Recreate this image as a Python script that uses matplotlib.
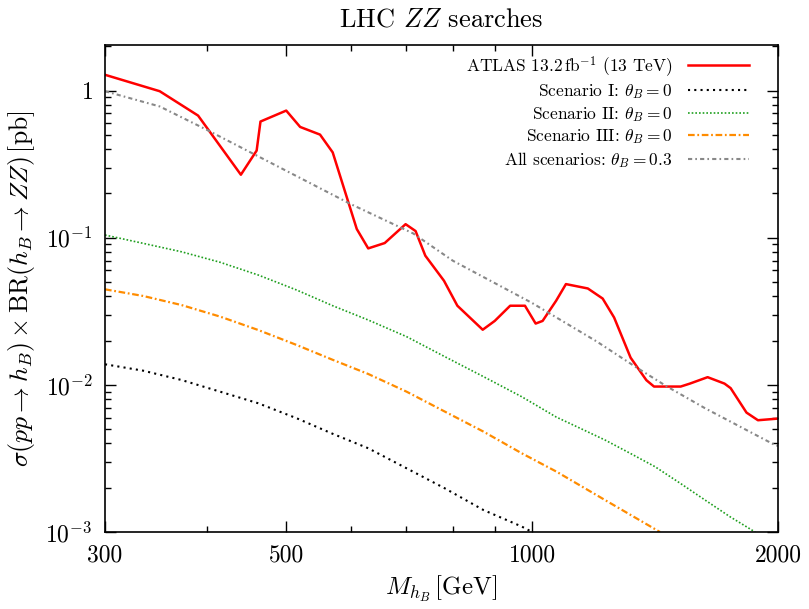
import numpy as np
import matplotlib
matplotlib.use('Agg')
import matplotlib.pyplot as plt
from matplotlib.ticker import FixedLocator, NullFormatter, LogLocator

plt.rcParams['font.family'] = 'serif'
plt.rcParams['font.serif'] = ['cmr10']
plt.rcParams['mathtext.fontset'] = 'cm'
plt.rcParams['axes.formatter.use_mathtext'] = True

# ATLAS 13.2 fb^-1 limit
atlas_m = [300, 350, 390, 440, 460, 465, 500, 520, 550, 570, 610, 630, 660, 700, 720,
           740, 780, 810, 870, 900, 940, 980, 1010, 1030, 1070, 1100, 1170, 1220, 1260,
           1320, 1380, 1410, 1520, 1560, 1640, 1720, 1750, 1830, 1890, 2000]
atlas_xs = [1.28, 0.99, 0.676, 0.268, 0.391, 0.616, 0.731, 0.566, 0.502, 0.380, 0.1146,
            0.0846, 0.092, 0.1236, 0.111, 0.0755, 0.051, 0.0345, 0.0237, 0.0272, 0.0345,
            0.0345, 0.0261, 0.0272, 0.0373, 0.0484, 0.0452, 0.0386, 0.0287, 0.0153,
            0.01076, 0.00974, 0.00974, 0.0102, 0.01128, 0.0102, 0.0095, 0.00648, 0.00575,
            0.0059]

# scenario I, theta_B = 0
s1_m = [300, 334, 372, 415, 462, 515, 570, 630, 702, 782, 872, 971, 1000]
s1_xs = [0.0138, 0.01249, 0.0108, 0.00899, 0.0075, 0.00593, 0.00465, 0.00371, 0.00271,
         0.00198, 0.00141, 0.00109, 0.00100]

# scenario II, theta_B = 0
s2_m = [300, 334, 372, 415, 462, 515, 570, 630, 702, 782, 872, 971, 1070, 1145, 1228,
        1318, 1414, 1517, 1628, 1747, 1875]
s2_xs = [0.1043, 0.0916, 0.0803, 0.0681, 0.0558, 0.0441, 0.0345, 0.0276, 0.02126, 0.01554,
         0.01137, 0.00831, 0.00605, 0.00507, 0.00422, 0.00343, 0.00278, 0.00215, 0.00165,
         0.00127, 0.00100]

# scenario III, theta_B = 0
s3_m = [300, 334, 372, 415, 462, 515, 570, 630, 702, 782, 872, 971, 1070, 1228, 1434]
s3_xs = [0.0446, 0.0402, 0.0349, 0.0291, 0.0236, 0.01866, 0.0148, 0.01186, 0.00899, 0.00658,
         0.00481, 0.00343, 0.00258, 0.00165, 0.00100]

# all scenarios, theta_B = 0.3
all_m = [300, 350, 400, 500, 600, 715, 800, 1000, 1200, 1340, 1460, 1628, 1983, 2000]
all_xs = [0.99, 0.78, 0.54, 0.285, 0.169, 0.107, 0.0697, 0.036, 0.0197, 0.0132, 0.0098,
          0.00694, 0.0039, 0.00385]

fig = plt.figure(figsize=(8.09, 6.09), dpi=100)
ax = fig.add_axes([0.1298, 0.1264, 0.8319, 0.7997])

ax.plot(atlas_m, atlas_xs, color='#ff0000', lw=1.8, label=r'ATLAS $13.2\,\mathrm{fb}^{-1}$ (13 TeV)')
ax.plot(s1_m, s1_xs, color='black', lw=1.5, linestyle=(0, (1, 2)), label=r'Scenario I: $\theta_B = 0$')
ax.plot(s2_m, s2_xs, color='#1f9f1f', lw=1.2, linestyle=(0, (1, 1.2)), label=r'Scenario II: $\theta_B = 0$')
ax.plot(s3_m, s3_xs, color='#ff8c00', lw=1.6, linestyle=(0, (3, 1.2, 0.8, 1.2)), label=r'Scenario III: $\theta_B = 0$')
ax.plot(all_m, all_xs, color='#888888', lw=1.5, linestyle=(0, (2, 1.5, 0.8, 1.5)), label=r'All scenarios: $\theta_B = 0.3$')

ax.set_xscale('log')
ax.set_yscale('log')
ax.set_xlim(300, 2000)
ax.set_ylim(1e-3, 2.04)

ax.xaxis.set_major_locator(FixedLocator([300, 500, 1000, 2000]))
ax.xaxis.set_minor_locator(FixedLocator([400, 600, 700, 800, 900]))
ax.xaxis.set_major_formatter(plt.FixedFormatter(['300', '500', '1000', '2000']))
ax.xaxis.set_minor_formatter(NullFormatter())
ax.yaxis.set_major_locator(FixedLocator([1e-3, 1e-2, 1e-1, 1]))
ax.yaxis.set_major_formatter(plt.FixedFormatter([r'$10^{-3}$', r'$10^{-2}$', r'$10^{-1}$', r'$1$']))
ax.yaxis.set_minor_locator(LogLocator(base=10, subs=np.arange(2, 10)))
ax.yaxis.set_minor_formatter(NullFormatter())

ax.tick_params(which='both', direction='in', top=True, right=True, labelsize=17, width=1)
ax.tick_params(which='major', length=8, pad=9)
ax.tick_params(which='minor', length=4)
for s in ax.spines.values():
    s.set_linewidth(1.2)

ax.set_xlabel(r'$M_{h_B}\,[\mathrm{GeV}]$', fontsize=18, labelpad=5)
ax.set_ylabel(r'$\sigma(pp\to h_B)\times\mathrm{BR}(h_B\to ZZ)\,[\mathrm{pb}]$', fontsize=18.5, labelpad=6)
ax.set_title(r'LHC $ZZ$ searches', fontsize=19, pad=13)

ax.legend(loc='upper right', bbox_to_anchor=(0.967, 0.996), frameon=False, markerfirst=False,
          fontsize=12.5, handlelength=3.5, handletextpad=0.9, labelspacing=0.2,
          borderaxespad=0.0, borderpad=0.4)

fig.savefig('out.png', dpi=100)
